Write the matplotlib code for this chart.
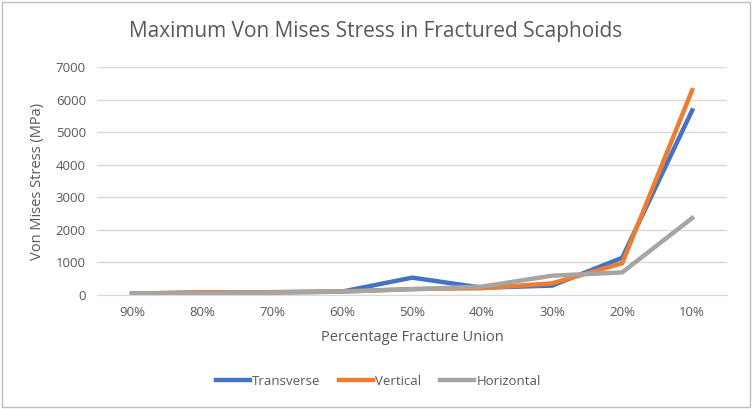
import matplotlib.pyplot as plt
from matplotlib.patches import Rectangle

categories = ["90%", "80%", "70%", "60%", "50%", "40%", "30%", "20%", "10%"]
transverse = [40, 70, 80, 100, 530, 220, 285, 1140, 5670]
vertical = [40, 80, 85, 105, 180, 205, 355, 970, 6290]
horizontal = [40, 50, 70, 100, 175, 255, 590, 690, 2360]

plt.rcParams['font.family'] = ['Open Sans', 'DejaVu Sans']
text_col = '#595959'

fig = plt.figure(figsize=(7.52, 4.09), dpi=100)
ax = fig.add_axes([0.129, 0.279, 0.838, 0.557])

x = range(len(categories))
ax.plot(x, transverse, color='#4472C4', lw=3.2, label='Transverse')
ax.plot(x, vertical, color='#ED7D31', lw=3.2, label='Vertical')
ax.plot(x, horizontal, color='#A5A5A5', lw=3.2, label='Horizontal')

ax.set_xlim(-0.5, len(categories) - 0.5)
ax.set_ylim(0, 7000)
ax.set_yticks(range(0, 7001, 1000))
ax.set_xticks(list(x))
ax.set_xticklabels(categories)
ax.grid(axis='y', color='#D9D9D9', lw=1)
ax.set_axisbelow(True)
for s in ['top', 'right', 'left']:
    ax.spines[s].set_visible(False)
ax.spines['bottom'].set_color('#D9D9D9')
ax.tick_params(length=0, colors=text_col, labelsize=9.5, pad=8)

ax.set_xlabel('Percentage Fracture Union', color=text_col, fontsize=10.5, labelpad=8)
ax.set_ylabel('Von Mises Stress (MPa)', color=text_col, fontsize=10.5, labelpad=8)
fig.text(0.5, 0.922, 'Maximum Von Mises Stress in Fractured Scaphoids',
         ha='center', va='center', color=text_col, fontsize=15)

ax.legend(loc='center', bbox_to_anchor=(0.503, 0.068), bbox_transform=fig.transFigure,
          ncol=3, frameon=False, fontsize=9.5, labelcolor=text_col,
          handlelength=2.6, handletextpad=0.15, columnspacing=1.4)

fig.patches.append(Rectangle((0.003, 0.005), 0.994, 0.99, transform=fig.transFigure,
                             fill=False, edgecolor='#BFBFBF', lw=1))

fig.savefig('out.png', dpi=100)
